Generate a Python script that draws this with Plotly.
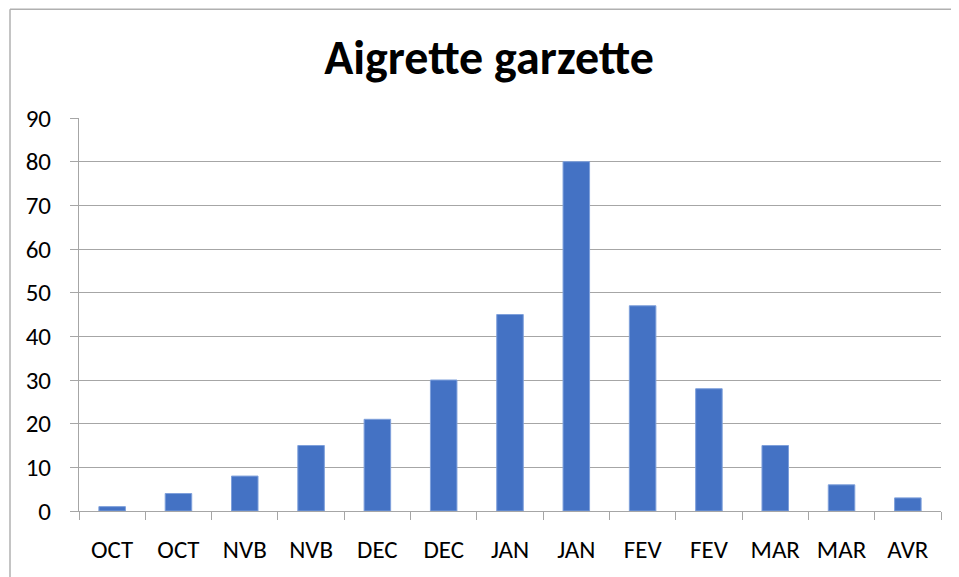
import plotly.graph_objects as go

categories = ["OCT", "OCT", "NVB", "NVB", "DEC", "DEC", "JAN", "JAN", "FEV", "FEV", "MAR", "MAR", "AVR"]
values = [1, 4, 8, 15, 21, 30, 45, 80, 47, 28, 15, 6, 3]
y_ticks = [0, 10, 20, 30, 40, 50, 60, 70, 80, 90]

# page body has an 8px margin, so the figure is sized to fill the rest of the window
W, H = 951, 569
ML, MR, MT, MB = 71, 18, 110, 64
PW = W - ML - MR
PH = H - MT - MB

positions = list(range(len(categories)))
font_family = "Calibri, Carlito, 'Noto Sans', sans-serif"
grid_col = "#a6a6a6"

fig = go.Figure(go.Bar(
    x=positions, y=values, width=0.4,
    marker=dict(color="#4472C4", line=dict(color="#7fa0db", width=1)),
))

# outer chart border (left and top edges visible)
bx = (2 - ML) / PW
by = 1 + (MT - 0.75) / PH
fig.add_shape(type="line", xref="paper", yref="paper", x0=bx, x1=bx, y0=by, y1=-(MB + 5) / PH,
              line=dict(color="#b0b0b0", width=1.5))
fig.add_shape(type="line", xref="paper", yref="paper", x0=bx, x1=(W + 5 - ML) / PW, y0=by, y1=by,
              line=dict(color="#b0b0b0", width=1.5))

fig.update_layout(
    width=W, height=H,
    margin=dict(l=ML, r=MR, t=MT, b=MB),
    plot_bgcolor="white", paper_bgcolor="white",
    showlegend=False,
    font=dict(family=font_family, color="black", size=25),
    title=dict(text="<b>Aigrette garzette</b>", x=481 / W, xanchor="center",
               y=1 - 49 / H, yanchor="middle", yref="container",
               font=dict(size=48, family=font_family, color="black")),
    xaxis=dict(
        range=[-0.5, len(categories) - 0.5],
        tickmode="array", tickvals=positions, ticktext=categories,
        ticks="", showgrid=False, zeroline=False,
        showline=True, linecolor=grid_col, linewidth=1,
        ticklabelstandoff=16,
        minor=dict(tick0=0.5, dtick=1, ticks="outside", ticklen=8,
                   tickcolor=grid_col, tickwidth=1, showgrid=False),
        tickfont=dict(size=25),
    ),
    yaxis=dict(
        range=[0, 90], tickmode="array", tickvals=y_ticks,
        showgrid=True, gridcolor=grid_col, gridwidth=1,
        zeroline=False, showline=True, linecolor=grid_col, linewidth=1,
        ticks="outside", ticklen=8, tickcolor=grid_col,
        ticklabelstandoff=14,
        tickfont=dict(size=25),
    ),
)

fig.write_html("out.html")
